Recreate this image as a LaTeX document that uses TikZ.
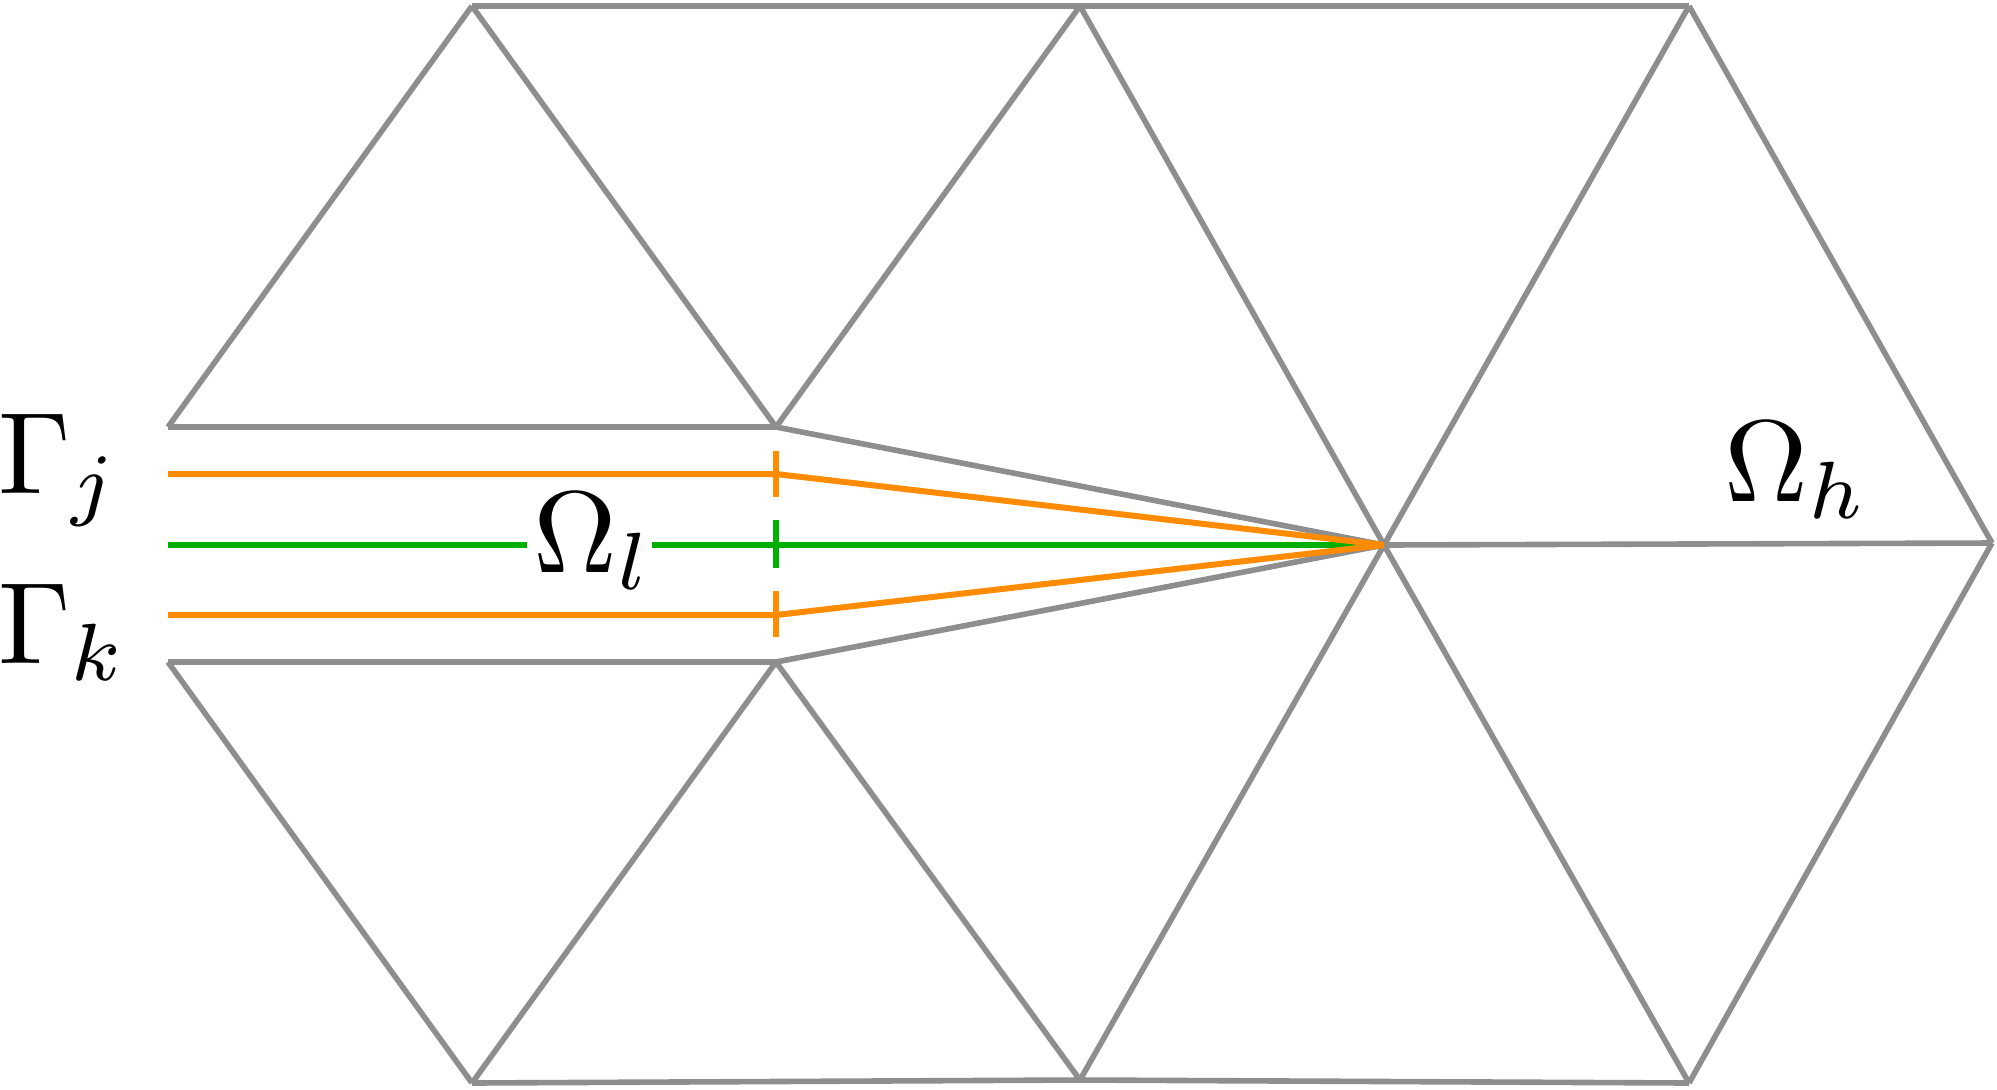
\documentclass[tikz,border=0pt]{standalone}
\begin{document}
\begin{tikzpicture}[x=0.5pt,y=-0.5pt,
  mesh/.style={draw={rgb,255:red,142;green,142;blue,142},line width=2.8pt},
  orng/.style={draw={rgb,255:red,255;green,140;blue,0},line width=3pt},
  grn/.style={draw={rgb,255:red,0;green,175;blue,0},line width=3pt},
  lbl/.style={anchor=base west,inner sep=0pt,scale=5.8}]
\useasboundingbox (0,0) rectangle (1997,1089);
% vertices
\coordinate (A1) at (472,6);
\coordinate (A2) at (1080,6);
\coordinate (A3) at (1689,6);
\coordinate (B1) at (168,427);
\coordinate (B2) at (776,427);
\coordinate (C) at (1384,545);
\coordinate (D) at (1992,543);
\coordinate (E1) at (168,662);
\coordinate (E2) at (776,662);
\coordinate (F1) at (472,1083);
\coordinate (F2) at (1080,1080);
\coordinate (F3) at (1689,1083);
% mesh
\draw[mesh] (B1) -- (A1);
\draw[mesh] (A1) -- (B2);
\draw[mesh] (B1) -- (B2);
\draw[mesh] (A1) -- (A2);
\draw[mesh] (B2) -- (A2);
\draw[mesh] (A2) -- (A3);
\draw[mesh] (A2) -- (C);
\draw[mesh] (A3) -- (C);
\draw[mesh] (A3) -- (D);
\draw[mesh] (C) -- (D);
\draw[mesh] (B2) -- (C);
\draw[mesh] (E2) -- (C);
\draw[mesh] (E1) -- (E2);
\draw[mesh] (E1) -- (F1);
\draw[mesh] (E2) -- (F1);
\draw[mesh] (E2) -- (F2);
\draw[mesh] (F1) -- (F2);
\draw[mesh] (F2) -- (C);
\draw[mesh] (F2) -- (F3);
\draw[mesh] (F3) -- (C);
\draw[mesh] (F3) -- (D);
% green
\coordinate (G0) at (168,545);
\coordinate (G1) at (527,545);
\coordinate (G2) at (652,545);
\draw[grn] (G0) -- (G1);
\draw[grn] (G2) -- (C);
\coordinate (gt1) at (776,520);
\coordinate (gt2) at (776,568);
\draw[grn] (gt1) -- (gt2);
% orange
\coordinate (U0) at (168,474);
\coordinate (U1) at (776,474);
\coordinate (L0) at (168,615);
\coordinate (L1) at (776,615);
\draw[orng] (U0) -- (U1) -- (C);
\draw[orng] (L0) -- (L1) -- (C);
\coordinate (ut1) at (776,451);
\coordinate (ut2) at (776,497);
\coordinate (lt1) at (776,591);
\coordinate (lt2) at (776,637);
\draw[orng] (ut1) -- (ut2);
\draw[orng] (lt1) -- (lt2);
% labels
\node[lbl] (Gj) at (-4,493) {$\Gamma_j$};
\node[lbl] (Gk) at (-4,663) {$\Gamma_k$};
\node[lbl] (Ol) at (531,572) {$\Omega_l$};
\node[lbl] (Oh) at (1722,501) {$\Omega_h$};
\end{tikzpicture}
\end{document}
